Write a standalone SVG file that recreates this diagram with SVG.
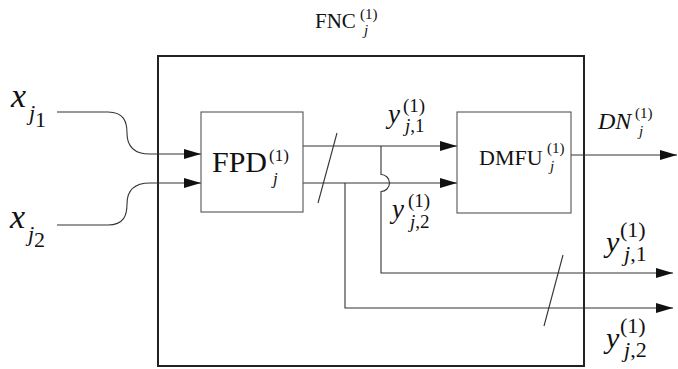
<svg xmlns="http://www.w3.org/2000/svg" width="678" height="369" viewBox="0 0 678 369">
<defs>
<marker id="arr" markerUnits="userSpaceOnUse" markerWidth="18" markerHeight="10" refX="17" refY="5" orient="auto">
<path d="M0,0 L17,5 L0,10 z" fill="#111"/>
</marker>
<style>
.t{font-family:"Liberation Serif","Times New Roman",serif;fill:#111}
.i{font-style:italic}
.w{fill:none;stroke:#333;stroke-width:1.1}
.box{fill:#fff;stroke:#555;stroke-width:1.1}
</style>
</defs>
<rect width="678" height="369" fill="#fff"/>

<g id="fnc">
<rect x="158" y="56" width="426" height="310" fill="none" stroke="#222" stroke-width="2"/>
<text class="t" x="315" y="28" font-size="21">FNC</text>
<text class="t" x="360" y="19" font-size="15">(1)</text>
<text class="t i" x="364" y="35" font-size="15">j</text>
</g>

<g id="connectors">
<path class="w" d="M57,112 L108,112 C124,112 127,122 127,133 C127,145 133,154 150,154 L201,154" marker-end="url(#arr)"/>
<path class="w" d="M57,225 L108,225 C124,225 127,215 127,204 C127,192 133,183 150,183 L201,183" marker-end="url(#arr)"/>
<path class="w" d="M303,146 L457,146" marker-end="url(#arr)"/>
<path class="w" d="M303,183 L457,183" marker-end="url(#arr)"/>
<path class="w" d="M381,146 L381,174.5 A8.5,8.5 0 0 1 381,191.5 L381,273 L673,273" marker-end="url(#arr)"/>
<path class="w" d="M345,183 L345,308 L673,308" marker-end="url(#arr)"/>
<path class="w" d="M571,155 L677,155" marker-end="url(#arr)"/>
<line class="w" x1="337" y1="133" x2="318" y2="203"/>
<line class="w" x1="563" y1="255" x2="544" y2="326"/>
</g>

<g id="fpd">
<rect class="box" x="201" y="112" width="102" height="100"/>
<text class="t" x="212" y="172" font-size="30">FPD</text>
<text class="t" x="269" y="161" font-size="17">(1)</text>
<text class="t i" x="273" y="184" font-size="17">j</text>
</g>

<g id="dmfu">
<rect class="box" x="457" y="112" width="114" height="101"/>
<text class="t" x="479" y="165" font-size="22">DMFU</text>
<text class="t" x="547" y="153" font-size="15">(1)</text>
<text class="t i" x="550" y="171" font-size="15">j</text>
</g>

<g id="labels">
<text class="t i" x="11" y="107" font-size="34">x</text>
<text class="t i" x="29" y="120" font-size="22">j</text>
<text class="t" x="35" y="127" font-size="22">1</text>

<text class="t i" x="10" y="228" font-size="34">x</text>
<text class="t i" x="28" y="241" font-size="22">j</text>
<text class="t" x="34" y="247" font-size="22">2</text>

<text class="t i" x="388" y="123" font-size="27">y</text>
<text class="t" x="403" y="112" font-size="19">(1)</text>
<text class="t" x="405" y="132" font-size="19"><tspan class="i">j</tspan>,1</text>

<text class="t i" x="392" y="218" font-size="27">y</text>
<text class="t" x="408" y="207" font-size="19">(1)</text>
<text class="t" x="410" y="228" font-size="19"><tspan class="i">j</tspan>,2</text>

<text class="t i" x="598" y="129" font-size="24">DN</text>
<text class="t" x="635" y="118" font-size="15">(1)</text>
<text class="t i" x="639" y="136" font-size="15">j</text>

<text class="t i" x="606" y="252" font-size="30">y</text>
<text class="t" x="620" y="237" font-size="22">(1)</text>
<text class="t" x="624" y="261" font-size="22"><tspan class="i">j</tspan>,1</text>

<text class="t i" x="606" y="348" font-size="30">y</text>
<text class="t" x="620" y="333" font-size="22">(1)</text>
<text class="t" x="624" y="357" font-size="22"><tspan class="i">j</tspan>,2</text>
</g>
</svg>
